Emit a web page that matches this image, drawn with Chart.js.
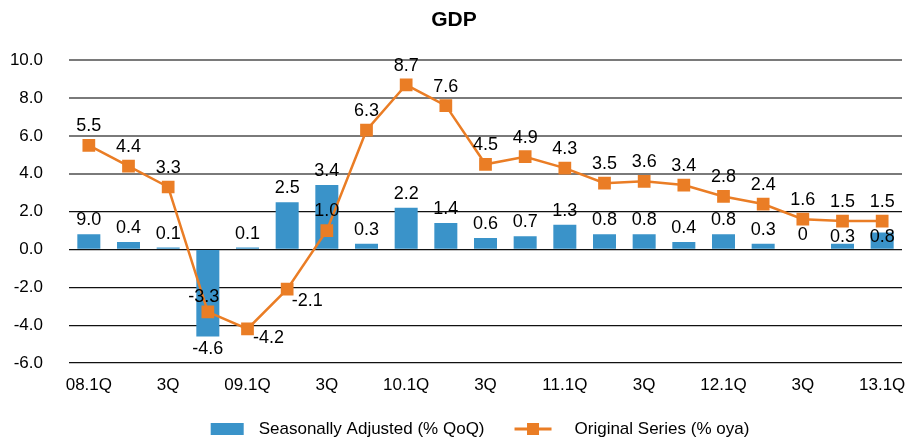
<!DOCTYPE html>
<html>
<head>
<meta charset="utf-8">
<script src="https://cdn.jsdelivr.net/npm/chart.js@4"></script>
<style>
  html, body { margin: 0; padding: 0; background: #fff; }
  #wrap { width: 911px; height: 439px; }
</style>
</head>
<body>
<div id="wrap"><canvas id="gdpChart"></canvas></div>
<script>
var quarters = [
  "08.1Q", "08.2Q", "08.3Q", "08.4Q",
  "09.1Q", "09.2Q", "09.3Q", "09.4Q",
  "10.1Q", "10.2Q", "10.3Q", "10.4Q",
  "11.1Q", "11.2Q", "11.3Q", "11.4Q",
  "12.1Q", "12.2Q", "12.3Q", "12.4Q",
  "13.1Q"
];
var tickLabels = ["08.1Q", "", "3Q", "", "09.1Q", "", "3Q", "", "10.1Q", "", "3Q", "",
  "11.1Q", "", "3Q", "", "12.1Q", "", "3Q", "", "13.1Q"];

// Seasonally adjusted, % QoQ
var qoq = [0.8, 0.4, 0.1, -4.6, 0.1, 2.5, 3.4, 0.3, 2.2, 1.4, 0.6, 0.7, 1.3, 0.8, 0.8, 0.4, 0.8, 0.3, 0, 0.3, 0.9];
// label text as printed on the chart
var qoqText = ["9.0", "0.4", "0.1", "-4.6", "0.1", "2.5", "3.4", "0.3", "2.2", "1.4", "0.6", "0.7", "1.3", "0.8", "0.8", "0.4", "0.8", "0.3", "0", "0.3", "0.8"];
// Original series, % oya
var oya = [5.5, 4.4, 3.3, -3.3, -4.2, -2.1, 1.0, 6.3, 8.7, 7.6, 4.5, 4.9, 4.3, 3.5, 3.6, 3.4, 2.8, 2.4, 1.6, 1.5, 1.5];

var font = '"Liberation Sans", Arial, sans-serif';
var blue = '#3a93c9';
var orange = '#ea7d25';

// nudges for a few labels that sit off their usual spot
var lineLabelShift = { 3: [-4, 4], 4: [21, 28], 5: [20, 31] };
var barLabelShift = { 19: [0, 7], 20: [0, 19] };

var valueLabels = {
  id: 'valueLabels',
  afterDatasetsDraw: function(chart) {
    var ctx = chart.ctx;
    ctx.save();
    ctx.font = '18px ' + font;
    ctx.fillStyle = '#000';
    ctx.textAlign = 'center';
    ctx.textBaseline = 'middle';
    chart.getDatasetMeta(0).data.forEach(function(bar, i) {
      var s = barLabelShift[i] || [0, 0];
      var y = qoq[i] < 0 ? bar.y + 13 : bar.y - 14;
      ctx.fillText(qoqText[i], bar.x + s[0], y + s[1]);
    });
    chart.getDatasetMeta(1).data.forEach(function(pt, i) {
      var s = lineLabelShift[i] || [0, 0];
      ctx.fillText(oya[i].toFixed(1), pt.x + s[0], pt.y - 19 + s[1]);
    });
    ctx.restore();
  }
};

// legend drawn by hand: bar swatch, then line-with-marker swatch
var bottomLegend = {
  id: 'bottomLegend',
  afterDraw: function(chart) {
    var ctx = chart.ctx;
    var names = chart.data.datasets.map(function(d) { return d.label; });
    ctx.save();
    ctx.font = '17px ' + font;
    ctx.fillStyle = '#000';
    ctx.textBaseline = 'middle';
    var w0 = ctx.measureText(names[0]).width;
    var w1 = ctx.measureText(names[1]).width;
    var total = 33 + 15 + w0 + 30 + 37 + 23 + w1;
    var x = 480 - total / 2;
    var cy = 429;
    ctx.fillStyle = blue;
    ctx.fillRect(x, cy - 6, 33, 12);
    ctx.fillStyle = '#000';
    ctx.fillText(names[0], x + 48, cy);
    x += 48 + w0 + 30;
    ctx.strokeStyle = orange;
    ctx.lineWidth = 3;
    ctx.beginPath();
    ctx.moveTo(x, cy);
    ctx.lineTo(x + 37, cy);
    ctx.stroke();
    ctx.fillStyle = orange;
    ctx.fillRect(x + 18.5 - 6, cy - 6, 12, 12);
    ctx.fillStyle = '#000';
    ctx.fillText(names[1], x + 60, cy);
    ctx.restore();
  }
};

var ctx = document.getElementById('gdpChart').getContext('2d');
var gdpChart = new Chart(ctx, {
  data: {
    labels: quarters,
    datasets: [
      {
        type: 'bar',
        label: 'Seasonally Adjusted (% QoQ)',
        data: qoq,
        backgroundColor: blue,
        categoryPercentage: 1,
        barPercentage: 0.58,
        order: 2
      },
      {
        type: 'line',
        label: 'Original Series (% oya)',
        data: oya,
        borderColor: orange,
        backgroundColor: orange,
        borderWidth: 2.5,
        pointStyle: 'rect',
        pointRadius: 9,
        pointBackgroundColor: orange,
        pointBorderWidth: 0,
        tension: 0,
        order: 1
      }
    ]
  },
  options: {
    responsive: true,
    maintainAspectRatio: false,
    animation: false,
    layout: { padding: { left: 0, right: 3, top: 0, bottom: 26 } },
    scales: {
      x: {
        grid: { display: false },
        border: { display: false },
        afterFit: function(scale) { scale.height = 50; },
        ticks: {
          autoSkip: false,
          maxRotation: 0,
          padding: 4,
          color: '#000',
          font: { family: font, size: 17 },
          callback: function(v, i) { return tickLabels[i]; }
        }
      },
      y: {
        min: -6,
        max: 10,
        border: { display: false },
        grid: {
          drawTicks: false,
          color: function(c) { return c.tick && c.tick.value >= 4 ? '#7a7a7a' : '#111'; },
          lineWidth: function(c) { return c.tick && c.tick.value >= 4 ? 2 : 1.2; }
        },
        afterFit: function(scale) { scale.width = 69; },
        ticks: {
          stepSize: 2,
          padding: 26,
          color: '#000',
          font: { family: font, size: 17 },
          callback: function(v) { return v.toFixed(1); }
        }
      }
    },
    plugins: {
      title: {
        display: true,
        text: 'GDP',
        color: '#000',
        font: { family: font, size: 21, weight: 'bold' },
        padding: { top: 8, bottom: 27 }
      },
      legend: { display: false },
      tooltip: { enabled: false }
    }
  },
  plugins: [valueLabels, bottomLegend]
});
</script>
</body>
</html>
